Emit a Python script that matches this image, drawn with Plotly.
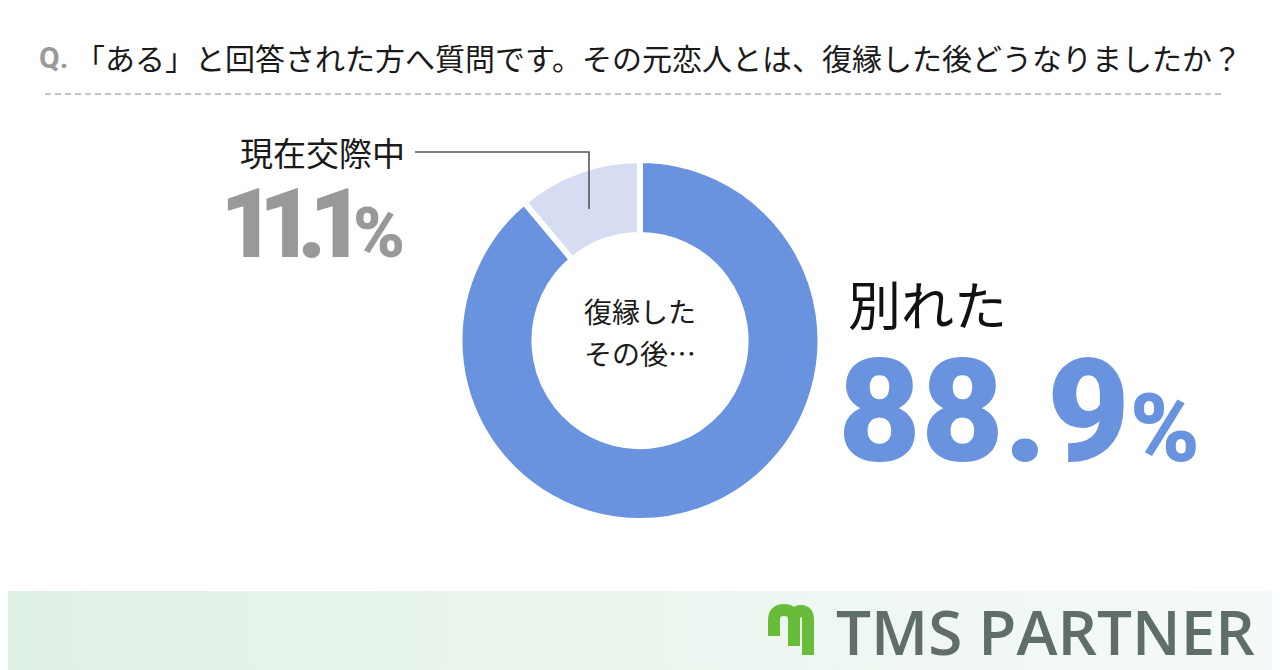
import plotly.graph_objects as go

# ---- data ----
categories = ["別れた", "現在交際中"]
values = [88.9, 11.1]
slice_colors = ["#6a93df", "#d6ddf3"]
title_prefix = "Q."
title_text = "「ある」と回答された方へ質問です。その元恋人とは、復縁した後どうなりましたか？"
center_lines = ["復縁した", "その後…"]
brand = "TMS PARTNER"

# page body has an 8px margin: map screen pixels directly onto data coords
OFF = 8
SW, SH = 1280, 670
W, H = SW - OFF, SH - OFF
JP = "Noto Sans CJK JP"
NUM = "Roboto"

fig = go.Figure()

# footer gradient band
fig.add_trace(go.Scatter(
    x=[0, SW, SW, 0, 0], y=[591, 591, SH, SH, 591], mode="lines",
    fill="toself", line=dict(width=0), hoverinfo="skip", showlegend=False,
    fillgradient=dict(type="horizontal",
                      colorscale=[[0, "#e0f1e6"], [0.5, "#ebf5ee"], [1, "#f6faf7"]]),
))

# donut
cx, cy, r = 640, 340.5, 180.5
fig.add_trace(go.Pie(
    labels=categories, values=values, sort=False, direction="clockwise",
    rotation=0, hole=0.585, textinfo="none", hoverinfo="label+percent",
    marker=dict(colors=slice_colors, line=dict(color="white", width=6)),
    domain=dict(x=[(cx - r - OFF) / W, (cx + r - OFF) / W],
                y=[1 - (cy + r - OFF) / H, 1 - (cy - r - OFF) / H]),
    showlegend=False,
))


def A(x, y, text, size, color, family=JP, xanchor="left", weight=None, height=None):
    f = dict(family=family, size=size, color=color)
    if weight:
        f["weight"] = weight
    a = dict(x=x, y=y, text=text, xanchor=xanchor, yanchor="middle",
             showarrow=False, font=f)
    if height:
        a["height"] = height
        a["valign"] = "middle"
    return a


small = f"{values[1]}"
ann = [
    A(37, 57, f"<b>{title_prefix}</b>", 30, "#9a9a9a", family=NUM),
    A(73, 57, title_text, 30, "#1a1a1a"),
    A(cx, 311, center_lines[0], 28, "#1a1a1a", xanchor="center"),
    A(cx, 353, center_lines[1], 28, "#1a1a1a", xanchor="center"),
    A(238, 152, categories[1], 33, "#1a1a1a", height=40),
    A(218, 224, f"<span style='letter-spacing:-17px'>{small[:-1]}</span>"
                f"<span style='letter-spacing:-12px'>{small[-1]}</span>"
                f"<span style='font-size:70px'>%</span>", 96, "#999999", family=NUM, weight=900,
      height=80),
    A(846, 303, categories[0], 53, "#111111", height=60),
    A(836, 411, f"{values[0]}<span style='font-size:94px'>%</span>", 143, "#6a93df",
      family=NUM, weight=900, height=115),
    A(834, 631, brand, 62, "#5f6f68", family="Open Sans", weight=600, height=60),
]

shapes = [
    dict(type="line", x0=45, x1=1225, y0=94, y1=94, xref="x", yref="y",
         line=dict(color="#b0b0b0", width=1.5, dash="6px,4px")),
    dict(type="path", xref="x", yref="y", layer="above",
         path="M 415,152 L 589,152 L 589,209",
         line=dict(color="#555555", width=1.6)),
    # logo mark
    dict(type="path", xref="x", yref="y", layer="above",
         path="M 774,636 L 774,620 Q 774,610 784,610 Q 794,610 794,620 L 794,646 "
              "M 794,620 Q 794,611 801,611 Q 808,611 808,620 L 808,655",
         line=dict(color="#69bc3a", width=12)),
]

fig.update_layout(
    width=W, height=H, margin=dict(l=0, r=0, t=0, b=0),
    paper_bgcolor="white", plot_bgcolor="white",
    xaxis=dict(range=[OFF, SW], visible=False, fixedrange=True),
    yaxis=dict(range=[SH, OFF], visible=False, fixedrange=True),
    annotations=ann, shapes=shapes, showlegend=False,
)

fig.write_html("out.html")
